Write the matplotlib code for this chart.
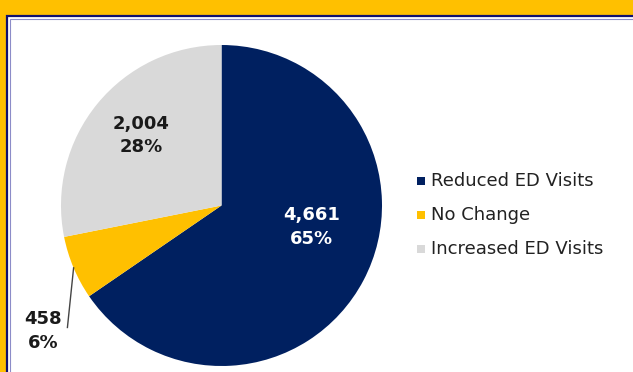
import matplotlib.pyplot as plt
from matplotlib.patches import Rectangle
import numpy as np

categories = ["Reduced ED Visits", "No Change", "Increased ED Visits"]
counts = [4661, 458, 2004]
colors = ["#002060", "#FFC000", "#D9D9D9"]

W, H = 633, 372
fig = plt.figure(figsize=(W / 100, H / 100), dpi=100)
fig.patch.set_facecolor("#FFC000")


def fx(x):
    return x / W


def fy(y):
    return 1 - y / H


# white panel with navy border
fig.patches.append(Rectangle((fx(7), 0), 1, fy(16), transform=fig.transFigure,
                             facecolor="white", edgecolor="none", zorder=-2))
fig.patches.append(Rectangle((fx(7), -0.1), 1, fy(16) + 0.1, transform=fig.transFigure,
                             facecolor="none", edgecolor="#10106e", lw=1.6, zorder=-1))
fig.patches.append(Rectangle((fx(9.5), -0.1), 1, fy(18.5) + 0.1, transform=fig.transFigure,
                             facecolor="none", edgecolor="#8c8cc8", lw=0.8, zorder=-1))

# pie axes, centre (221,205) radius 160 px
cx, cy, r = 221.5, 205.5, 160.5
ax = fig.add_axes([fx(cx - r), fy(cy + r), 2 * r / W, 2 * r / H])
ax.set_zorder(3)
ax.axis("off")

wedges, _ = ax.pie(counts, colors=colors, startangle=90, counterclock=False,
                   radius=1, wedgeprops=dict(linewidth=0))
ax.set_xlim(-1, 1)
ax.set_ylim(-1, 1)

total = sum(counts)
labels = [f"{c:,}\n{round(100 * c / total)}%" for c in counts]

lab_kw = dict(fontsize=13, fontweight="bold", ha="center", va="center",
              linespacing=1.4)
ax.text(0.56, -0.134, labels[0], color="white", **lab_kw)
ax.text(-0.50, 0.436, labels[2], color="#1a1a1a", **lab_kw)
ax.text(-1.112, -0.782, labels[1], color="#1a1a1a", clip_on=False, **lab_kw)

# leader line for small slice
w = wedges[1]
mid = np.deg2rad((w.theta1 + w.theta2) / 2)
ax.plot([-0.96, np.cos(mid)], [-0.76, np.sin(mid)], color="#444444", lw=1,
        clip_on=False)

# legend
for i, (cat, col) in enumerate(zip(categories, colors)):
    y = 181 + i * 34
    fig.patches.append(Rectangle((fx(417), fy(y + 4)), 8 / W, 8 / H,
                                 transform=fig.transFigure, facecolor=col,
                                 edgecolor="none"))
    fig.text(fx(431), fy(y), cat, fontsize=13, color="#222222", va="center",
             ha="left")

fig.savefig("out.png", dpi=100)
